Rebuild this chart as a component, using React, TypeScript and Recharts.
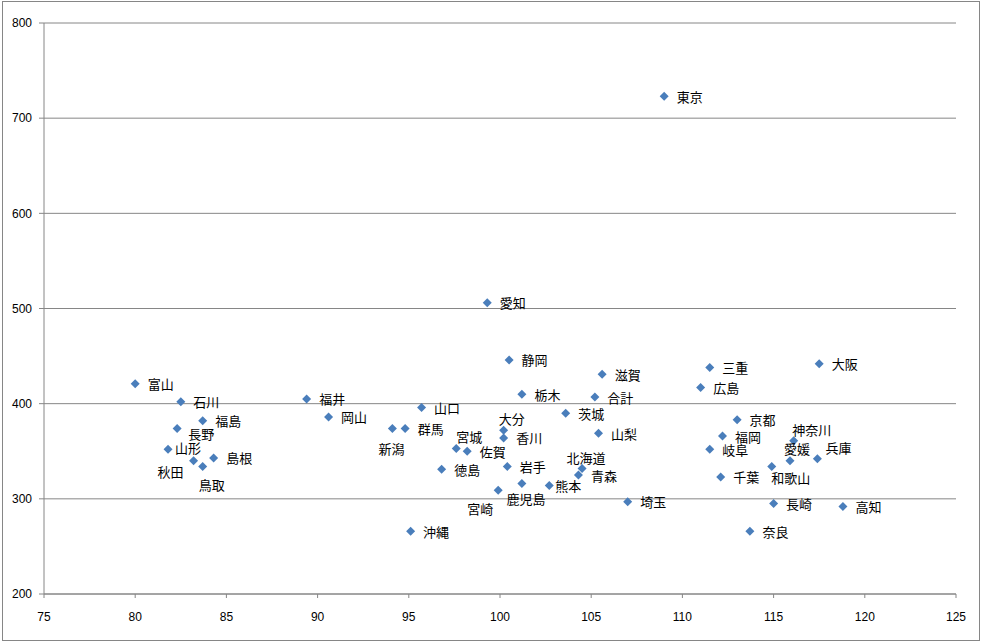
import { ScatterChart, Scatter, XAxis, YAxis, CartesianGrid } from 'recharts';

// 都道府県ごとの値（横軸・縦軸）
const prefectures = [
  '東京', '愛知', '静岡', '大阪', '三重', '滋賀', '富山', '広島', '栃木', '合計',
  '福井', '石川', '山口', '茨城', '岡山', '京都', '福島', '長野', '新潟', '群馬',
  '大分', '山梨', '福岡', '香川', '神奈川', '宮城', '佐賀', '岐阜', '山形', '兵庫',
  '島根', '愛媛', '秋田', '和歌山', '鳥取', '岩手', '北海道', '徳島', '青森', '千葉',
  '鹿児島', '熊本', '宮崎', '埼玉', '長崎', '高知', '沖縄', '奈良',
];
const xValues = [
  109.0, 99.3, 100.5, 117.5, 111.5, 105.6, 80.0, 111.0, 101.2, 105.2,
  89.4, 82.5, 95.7, 103.6, 90.6, 113.0, 83.7, 82.3, 94.1, 94.8,
  100.2, 105.4, 112.2, 100.2, 116.1, 97.6, 98.2, 111.5, 81.8, 117.4,
  84.3, 115.9, 83.2, 114.9, 83.7, 100.4, 104.5, 96.8, 104.3, 112.1,
  101.2, 102.7, 99.9, 107.0, 115.0, 118.8, 95.1, 113.7,
];
const yValues = [
  723, 506, 446, 442, 438, 431, 421, 417, 410, 407,
  405, 402, 396, 390, 386, 383, 382, 374, 374, 374,
  372, 369, 366, 364, 361, 353, 350, 352, 352, 342,
  343, 340, 340, 334, 334, 334, 332, 331, 325, 323,
  316, 314, 309, 297, 295, 292, 266, 266,
];
const xTicks = [75, 80, 85, 90, 95, 100, 105, 110, 115, 120, 125];
const yTicks = [200, 300, 400, 500, 600, 700, 800];

const data = prefectures.map((name, i) => ({ name, x: xValues[i], y: yValues[i] }));

// ラベル位置の調整 [dx, dy, anchor]（既定は点の右側）
const labelPos: Record<string, [number, number, 'start' | 'middle' | 'end']> = {
  長野: [11, 5, 'start'],
  山形: [7, -2, 'start'],
  秋田: [-23, 11, 'middle'],
  鳥取: [9, 18, 'middle'],
  新潟: [-1, 20, 'middle'],
  宮城: [13, -12, 'middle'],
  大分: [8, -12, 'middle'],
  宮崎: [-18, 18, 'middle'],
  鹿児島: [4, 15, 'middle'],
  熊本: [6, 0, 'start'],
  北海道: [4, -11, 'middle'],
  神奈川: [18, -11, 'middle'],
  愛媛: [7, -12, 'middle'],
  兵庫: [8, -11, 'start'],
  和歌山: [19, 11, 'middle'],
};

const BLUE = '#4a7ebb';
const GRAY = '#868686';

function PointMark(props: any) {
  const { cx, cy, payload } = props;
  if (cx == null || cy == null) return null;
  const r = 4.5;
  const [dx, dy, anchor] = labelPos[payload.name] ?? [12.5, 0, 'start'];
  return (
    <g>
      <polygon
        points={`${cx},${cy - r} ${cx + r},${cy} ${cx},${cy + r} ${cx - r},${cy}`}
        fill={BLUE}
      />
      <text
        x={cx + dx}
        y={cy + dy}
        textAnchor={anchor}
        dominantBaseline="central"
        fontSize={13}
        fontFamily='"Noto Sans CJK JP", sans-serif'
        fill="#000"
      >
        {payload.name}
      </text>
    </g>
  );
}

export default function App() {
  return (
    <div style={{ position: 'absolute', left: 0, top: 0, width: 983, height: 642, background: '#fff' }}>
      <div
        style={{
          position: 'absolute',
          left: 2,
          top: 1,
          width: 976,
          height: 638,
          border: `1px solid ${GRAY}`,
        }}
      />
      <ScatterChart
        width={983}
        height={642}
        margin={{ top: 23, right: 27, bottom: 18, left: 0 }}
        style={{ position: 'absolute', left: 0, top: 0 }}
      >
        <CartesianGrid vertical={false} stroke={GRAY} strokeWidth={1} />
        <XAxis
          type="number"
          dataKey="x"
          domain={[75, 125]}
          ticks={xTicks}
          interval={0}
          height={30}
          stroke={GRAY}
          tickSize={4}
          tickMargin={14}
          tick={{ fontSize: 12, fill: '#000', fontFamily: '"Liberation Sans", Arial, sans-serif' }}
        />
        <YAxis
          type="number"
          dataKey="y"
          domain={[200, 800]}
          ticks={yTicks}
          interval={0}
          width={44}
          stroke={GRAY}
          tickSize={5}
          tickMargin={7}
          tick={{ fontSize: 12, fill: '#000', fontFamily: '"Liberation Sans", Arial, sans-serif' }}
        />
        <Scatter data={data} isAnimationActive={false} shape={(p: any) => <PointMark {...p} />} />
      </ScatterChart>
    </div>
  );
}
